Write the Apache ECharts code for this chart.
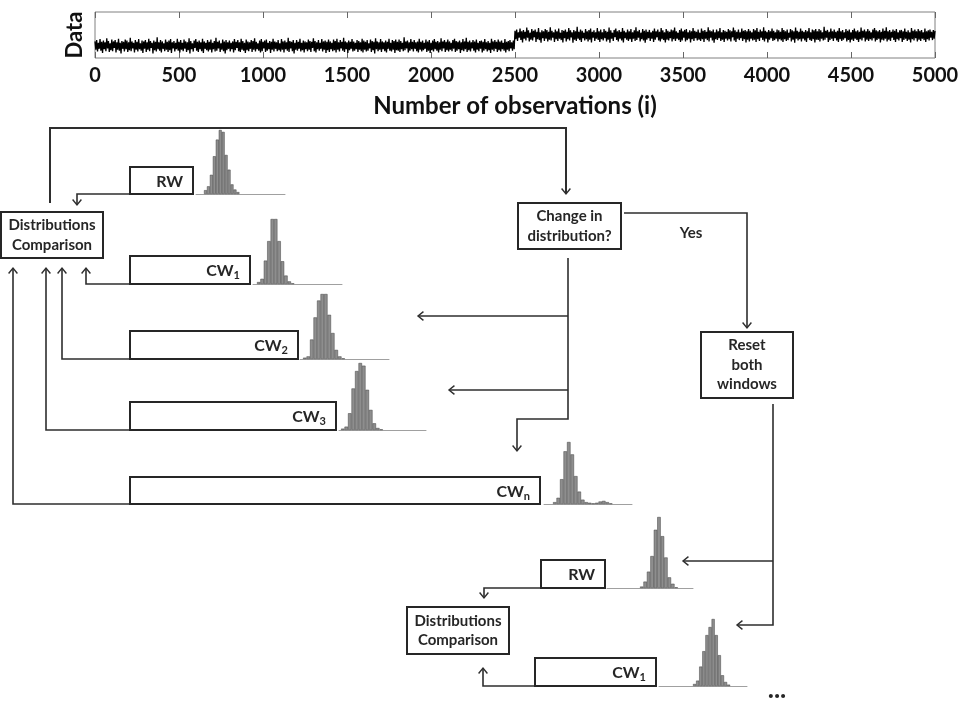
<!DOCTYPE html>
<html><head><meta charset="utf-8">
<script src="https://cdn.jsdelivr.net/npm/echarts@6/dist/echarts.min.js"></script>
<style>html,body{margin:0;padding:0;background:#fff}#c{width:969px;height:701px}</style>
</head><body><div id="c"></div>
<script>
// ---------------- DATA ----------------
const obsStep = 5; // one plotted sample every 5 observations
const dataBefore = [
3.6,1.8,3.9,1.4,3.3,2.0,4.1,1.6,3.5,1.1,3.8,1.9,3.4,1.5,4.3,2.1,3.7,1.3,3.2,1.7,
4.0,1.5,3.6,2.2,3.9,1.2,3.4,1.8,4.2,1.6,3.3,1.0,3.7,2.0,3.5,1.4,4.0,1.9,3.8,1.3,
3.4,1.7,4.4,1.5,3.6,2.1,3.3,1.2,3.9,1.8,3.5,1.4,4.1,1.9,3.2,1.6,3.8,1.1,3.6,2.0,
3.9,1.3,3.4,1.8,4.2,1.5,3.7,2.2,3.3,1.0,3.8,1.7,3.5,1.4,4.5,1.9,3.4,1.6,3.9,1.2,
3.6,2.0,3.2,1.5,4.0,1.8,3.5,1.3,3.8,1.7,4.1,1.1,3.4,2.1,3.7,1.4,3.3,1.9,4.2,1.6,
3.5,1.2,3.9,1.8,3.3,1.5,4.0,2.0,3.6,1.3,3.4,1.7,4.3,1.0,3.7,1.9,3.2,1.4,3.8,2.2,
4.1,1.6,3.5,1.3,3.8,1.9,3.4,1.5,4.2,1.1,3.6,2.0,3.3,1.7,3.9,1.4,3.5,1.8,4.0,1.2,
3.3,1.9,3.7,1.4,4.4,1.6,3.5,2.1,3.8,1.3,3.2,1.8,4.0,1.5,3.6,1.0,3.9,1.7,3.4,2.0,
3.8,1.4,3.3,1.9,3.6,1.2,4.1,1.7,3.5,2.2,3.9,1.5,3.4,1.3,4.2,1.8,3.7,1.6,3.3,1.1,
4.0,1.7,3.6,1.5,3.4,2.0,3.9,1.3,3.7,1.8,4.3,1.4,3.5,1.9,3.2,1.6,3.8,1.2,4.1,1.5,
3.5,2.1,3.8,1.3,4.0,1.6,3.3,1.9,3.7,1.1,3.5,1.8,4.2,1.4,3.6,2.0,3.4,1.5,3.9,1.7,
3.2,1.4,4.1,1.8,3.6,1.2,3.8,1.9,3.4,1.6,4.4,1.3,3.7,2.1,3.5,1.5,3.9,1.0,3.3,1.8,
3.9,1.6,3.5,2.0,4.2,1.4,3.3,1.7,3.8,1.2,3.6,1.9,3.4,1.5,4.0,1.8,3.7,1.3,3.5,2.2,
4.3,1.5,3.7,1.2,3.4,1.9,3.9,1.6,3.3,2.0,4.1,1.4,3.6,1.8,3.8,1.1,3.5,1.7,4.0,1.3,
3.6,1.9,3.3,1.5,4.0,1.7,3.7,1.2,4.2,1.8,3.4,1.4,3.9,2.1,3.5,1.6,4.4,1.3,3.6,1.9,
3.4,1.1,3.8,1.7,3.5,2.0,4.1,1.4,3.6,1.6,3.3,1.9,3.9,1.3,3.7,1.8,3.4,1.5,4.2,1.2,
3.8,1.8,3.5,1.4,3.9,1.6,3.2,2.1,4.0,1.3,3.7,1.7,3.5,1.0,4.3,1.9,3.6,1.5,3.4,1.8,
4.1,1.3,3.6,1.9,3.4,1.5,3.8,1.2,3.5,2.0,4.2,1.6,3.3,1.4,3.9,1.8,3.7,1.1,4.0,1.7,
3.5,1.6,4.0,1.3,3.7,1.9,3.3,1.5,4.5,1.7,3.6,2.1,3.8,1.2,3.4,1.6,4.1,1.9,3.5,1.4,
3.9,2.0,3.4,1.5,3.6,1.2,4.2,1.8,3.5,1.4,3.8,1.7,3.3,2.0,4.0,1.3,3.6,1.6,3.9,1.1,
3.3,1.7,3.8,1.4,4.1,1.9,3.5,1.6,3.7,1.2,3.4,1.8,4.3,1.5,3.6,2.1,3.9,1.3,3.5,1.7,
4.0,1.4,3.6,1.8,3.3,1.5,3.9,2.0,4.2,1.3,3.7,1.6,3.5,1.9,3.8,1.1,3.4,1.7,4.1,1.5,
3.6,1.9,4.4,1.3,3.5,1.7,3.8,1.4,3.4,2.1,3.9,1.6,3.6,1.2,4.0,1.8,3.3,1.5,3.7,2.0,
3.8,1.2,3.5,1.6,4.1,1.9,3.4,1.4,3.7,1.7,3.3,1.1,4.2,1.8,3.6,1.5,3.9,2.0,3.5,1.3,
4.0,1.7,3.6,1.4,3.8,1.9,3.3,1.6,4.1,1.2,3.5,1.8,3.7,1.5,3.9,2.1,3.4,1.6,3.8,1.9];
const dataAfter = [
5.9,4.1,6.2,3.7,5.6,4.4,6.4,3.9,5.8,3.4,6.1,4.2,5.7,3.8,6.6,4.4,6.0,3.6,5.5,4.0,
6.3,3.8,5.9,4.5,6.2,3.5,5.7,4.1,6.5,3.9,5.6,3.3,6.0,4.3,5.8,3.7,6.3,4.2,6.1,3.6,
5.7,4.0,6.7,3.8,5.9,4.4,5.6,3.5,6.2,4.1,5.8,3.7,6.4,4.2,5.5,3.9,6.1,3.4,5.9,4.3,
6.2,3.6,5.7,4.1,6.5,3.8,6.0,4.5,5.6,3.3,6.1,4.0,5.8,3.7,6.8,4.2,5.7,3.9,6.2,3.5,
5.9,4.3,5.5,3.8,6.3,4.1,5.8,3.6,6.1,4.0,6.4,3.4,5.7,4.4,6.0,3.7,5.6,4.2,6.5,3.9,
5.8,3.5,6.2,4.1,5.6,3.8,6.3,4.3,5.9,3.6,5.7,4.0,6.6,3.3,6.0,4.2,5.5,3.7,6.1,4.5,
6.4,3.9,5.8,3.6,6.1,4.2,5.7,3.8,6.5,3.4,5.9,4.3,5.6,4.0,6.2,3.7,5.8,4.1,6.3,3.5,
5.6,4.2,6.0,3.7,6.7,3.9,5.8,4.4,6.1,3.6,5.5,4.1,6.3,3.8,5.9,3.3,6.2,4.0,5.7,4.3,
6.1,3.7,5.6,4.2,5.9,3.5,6.4,4.0,5.8,4.5,6.2,3.8,5.7,3.6,6.5,4.1,6.0,3.9,5.6,3.4,
6.3,4.0,5.9,3.8,5.7,4.3,6.2,3.6,6.0,4.1,6.6,3.7,5.8,4.2,5.5,3.9,6.1,3.5,6.4,3.8,
5.8,4.4,6.1,3.6,6.3,3.9,5.6,4.2,6.0,3.4,5.8,4.1,6.5,3.7,5.9,4.3,5.7,3.8,6.2,4.0,
5.5,3.7,6.4,4.1,5.9,3.5,6.1,4.2,5.7,3.9,6.7,3.6,6.0,4.4,5.8,3.8,6.2,3.3,5.6,4.1,
6.2,3.9,5.8,4.3,6.5,3.7,5.6,4.0,6.1,3.5,5.9,4.2,5.7,3.8,6.3,4.1,6.0,3.6,5.8,4.5,
6.6,3.8,6.0,3.5,5.7,4.2,6.2,3.9,5.6,4.3,6.4,3.7,5.9,4.1,6.1,3.4,5.8,4.0,6.3,3.6,
5.9,4.2,5.6,3.8,6.3,4.0,6.0,3.5,6.5,4.1,5.7,3.7,6.2,4.4,5.8,3.9,6.7,3.6,5.9,4.2,
5.7,3.4,6.1,4.0,5.8,4.3,6.4,3.7,5.9,3.9,5.6,4.2,6.2,3.6,6.0,4.1,5.7,3.8,6.5,3.5,
6.1,4.1,5.8,3.7,6.2,3.9,5.5,4.4,6.3,3.6,6.0,4.0,5.8,3.3,6.6,4.2,5.9,3.8,5.7,4.1,
6.4,3.6,5.9,4.2,5.7,3.8,6.1,3.5,5.8,4.3,6.5,3.9,5.6,3.7,6.2,4.1,6.0,3.4,6.3,4.0,
5.8,3.9,6.3,3.6,6.0,4.2,5.6,3.8,6.8,4.0,5.9,4.4,6.1,3.5,5.7,3.9,6.4,4.2,5.8,3.7,
6.2,4.3,5.7,3.8,5.9,3.5,6.5,4.1,5.8,3.7,6.1,4.0,5.6,4.3,6.3,3.6,5.9,3.9,6.2,3.4,
5.6,4.0,6.1,3.7,6.4,4.2,5.8,3.9,6.0,3.5,5.7,4.1,6.6,3.8,5.9,4.4,6.2,3.6,5.8,4.0,
6.3,3.7,5.9,4.1,5.6,3.8,6.2,4.3,6.5,3.6,6.0,3.9,5.8,4.2,6.1,3.4,5.7,4.0,6.4,3.8,
5.9,4.2,6.7,3.6,5.8,4.0,6.1,3.7,5.7,4.4,6.2,3.9,5.9,3.5,6.3,4.1,5.6,3.8,6.0,4.3,
6.1,3.5,5.8,3.9,6.4,4.2,5.7,3.7,6.0,4.0,5.6,3.4,6.5,4.1,5.9,3.8,6.2,4.3,5.8,3.6,
6.3,4.0,5.9,3.7,6.1,4.2,5.6,3.9,6.4,3.5,5.8,4.1,6.0,3.8,6.2,4.4,5.7,3.9,6.1,4.2,5.9];
const xAxisMax = 5000;
const xTickStep = 500;

// histogram bin heights (relative counts)
const histRW1 = [6,12,30,59,85,100,97,61,38,15,7,3];
const histCW1 = [3,8,36,66,100,100,66,35,13,4,1];
const histCW2 = [2,4,30,64,90,100,100,68,40,14,4,1];
const histCW3 = [2,5,25,62,88,100,96,60,30,10,3,1];
const histCWn = [3,10,40,85,100,80,45,20,7,3,2,1,2,4,5,3,1];
const histRW2 = [2,9,23,45,82,100,73,43,15,6,1];
const histCW1b = [3,8,29,52,76,88,100,76,46,16,6,2];

// ---------------- LAYOUT (diagram, pixel space) ----------------
const histLayout = [
  {data:histRW1, barStart:204, binW:2.95, baseStart:196, baseEnd:285, top:130, bottom:194},
  {data:histCW1, barStart:257, binW:3.4,  baseStart:253, baseEnd:342, top:219, bottom:284},
  {data:histCW2, barStart:303, binW:3.5,  baseStart:300, baseEnd:389, top:294, bottom:359},
  {data:histCW3, barStart:341, binW:3.5,  baseStart:339, baseEnd:426, top:363, bottom:430},
  {data:histCWn, barStart:553, binW:3.5,  baseStart:544, baseEnd:632, top:442, bottom:504},
  {data:histRW2, barStart:640, binW:3.45, baseStart:607, baseEnd:693, top:517, bottom:588},
  {data:histCW1b,barStart:693, binW:3.1,  baseStart:659, baseEnd:747, top:619, bottom:686}
];
const boxes = [
  {x0:130,y0:167,x1:193,y1:194, label:'RW'},
  {x0:1,y0:212,x1:103,y1:258, lines:['Distributions','Comparison']},
  {x0:130,y0:256,x1:250,y1:284, label:'CW', sub:'1'},
  {x0:130,y0:331,x1:298,y1:359, label:'CW', sub:'2'},
  {x0:130,y0:402,x1:336,y1:430, label:'CW', sub:'3'},
  {x0:130,y0:477,x1:540,y1:504, label:'CW', sub:'n'},
  {x0:518,y0:203,x1:621,y1:249, lines:['Change in','distribution?']},
  {x0:701,y0:332,x1:793,y1:398, lines:['Reset','both','windows']},
  {x0:541,y0:560,x1:605,y1:588, label:'RW'},
  {x0:407,y0:607,x1:509,y1:654, lines:['Distributions','Comparison']},
  {x0:535,y0:658,x1:656,y1:686, label:'CW', sub:'1'}
];
const flows = [
  {pts:[[50,203],[50,128],[566,128],[566,194]], w:2},
  {pts:[[130,194],[77,194],[77,205]]},
  {pts:[[130,284],[86,284],[86,268]]},
  {pts:[[130,359],[62,359],[62,268]]},
  {pts:[[130,430],[46,430],[46,268]]},
  {pts:[[130,504],[13,504],[13,268]]},
  {pts:[[624,213],[747,213],[747,328]]},
  {pts:[[568,258],[568,419],[517,419],[517,451]]},
  {pts:[[568,316],[418,316]]},
  {pts:[[568,390],[449,390]]},
  {pts:[[773,404],[773,625],[737,625]]},
  {pts:[[773,561],[683,561]]},
  {pts:[[541,588],[484,588],[484,598]]},
  {pts:[[535,686],[483,686],[483,668]]}
];
const notes = [
  {x:691, y:233, text:'Yes', size:15},
  {x:777, y:690, text:'...', size:26}
];

// ---------------- CHART ----------------
const FONT = 'Lato, "Open Sans", sans-serif';
const chart = echarts.init(document.getElementById('c'), null, {renderer:'canvas'});
const obs = dataBefore.concat(dataAfter).map((v,i)=>[i*obsStep, v]);

const grids = [
  {left:95, top:12, width:840, height:46, show:true, borderColor:'#808080', borderWidth:1, backgroundColor:'transparent'},
  {left:0, top:0, width:969, height:701}
];
const xAxes = [
  {gridIndex:0, type:'value', min:0, max:xAxisMax, interval:xTickStep,
   axisLine:{show:false}, splitLine:{show:false},
   axisTick:{inside:true, length:6, lineStyle:{color:'#666'}},
   axisLabel:{fontFamily:FONT, fontWeight:'bold', fontSize:20, color:'#111', margin:8, formatter:(v)=>String(v)},
   name:'Number of observations (i)', nameLocation:'middle', nameGap:36,
   nameTextStyle:{fontFamily:FONT, fontWeight:'bold', fontSize:24, color:'#111'}},
  {gridIndex:0, type:'value', position:'top', min:0, max:xAxisMax, interval:xTickStep,
   axisLine:{show:false}, splitLine:{show:false}, axisLabel:{show:false},
   axisTick:{inside:true, length:6, lineStyle:{color:'#666'}}},
  {gridIndex:1, type:'value', min:0, max:969, show:false}
];
const yAxes = [
  {gridIndex:0, type:'value', min:0, max:10, axisLabel:{show:false}, axisTick:{show:false},
   axisLine:{show:false}, splitLine:{show:false},
   name:'Data', nameLocation:'middle', nameGap:9, nameRotate:90,
   nameTextStyle:{fontFamily:FONT, fontWeight:'bold', fontSize:22, color:'#111'}},
  {gridIndex:1, type:'value', min:0, max:701, inverse:true, show:false}
];
const OVX = 2, OVY = 1; // overlay axis indices
const series = [
  {type:'line', xAxisIndex:0, yAxisIndex:0, data:obs, showSymbol:false, symbol:'none',
   lineStyle:{color:'#000', width:1.3}, silent:true}
];

histLayout.forEach((h)=>{
  const gi = grids.length;
  grids.push({left:h.baseStart, top:h.top, width:h.baseEnd-h.baseStart, height:h.bottom-h.top});
  const xmin = -0.5 - (h.barStart - h.baseStart)/h.binW;
  const xmax = xmin + (h.baseEnd - h.baseStart)/h.binW;
  const xi = xAxes.length, yi = yAxes.length;
  xAxes.push({gridIndex:gi, type:'value', min:xmin, max:xmax,
    axisLabel:{show:false}, axisTick:{show:false}, splitLine:{show:false},
    axisLine:{show:true, onZero:false, lineStyle:{color:'#a0a0a0', width:1}}});
  yAxes.push({gridIndex:gi, type:'value', min:0, max:100, show:false});
  series.push({type:'bar', xAxisIndex:xi, yAxisIndex:yi, barWidth:h.binW,
    data:h.data.map((v,i)=>[i,v]),
    itemStyle:{color:'#8e8e8e', borderColor:'#404040', borderWidth:0.5}, silent:true});
});

function arrowHead(tip, prev, size){
  const dx=tip[0]-prev[0], dy=tip[1]-prev[1]; const L=Math.hypot(dx,dy)||1;
  const ux=dx/L, uy=dy/L; const a=0.68; const c=Math.cos(a), s=Math.sin(a);
  return [[tip[0]-size*(ux*c-uy*s), tip[1]-size*(uy*c+ux*s)], tip,
          [tip[0]-size*(ux*c+uy*s), tip[1]-size*(uy*c-ux*s)]];
}

series.push({type:'custom', xAxisIndex:OVX, yAxisIndex:OVY, silent:true,
  data:flows.map(f=>f.pts[0]),
  renderItem:(params, api)=>{
    const f = flows[params.dataIndex];
    const pts = f.pts.map(p=>api.coord(p));
    const n = pts.length;
    const head = arrowHead(pts[n-1], pts[n-2], 7);
    return {type:'group', children:[
      {type:'polyline', shape:{points:pts}, style:{stroke:'#2e2e2e', lineWidth:f.w||1.6, fill:null}},
      {type:'polyline', shape:{points:head}, style:{stroke:'#2e2e2e', lineWidth:1.4, fill:null}}
    ]};
  }});

series.push({type:'custom', xAxisIndex:OVX, yAxisIndex:OVY, silent:true,
  data:boxes.map(b=>[b.x0,b.y0]),
  renderItem:(params, api)=>{
    const b = boxes[params.dataIndex];
    const p0 = api.coord([b.x0,b.y0]), p1 = api.coord([b.x1,b.y1]);
    const children = [{type:'rect', shape:{x:p0[0], y:p0[1], width:p1[0]-p0[0], height:p1[1]-p0[1]},
      style:{fill:'#fff', stroke:'#262626', lineWidth:2}}];
    const cy = (p0[1]+p1[1])/2;
    if (b.lines){
      const lh = 19.5;
      b.lines.forEach((t,k)=>{
        children.push({type:'text', style:{text:t, x:(p0[0]+p1[0])/2, y:cy+(k-(b.lines.length-1)/2)*lh,
          align:'center', verticalAlign:'middle', fill:'#262626',
          font:'bold 15px '+FONT}});
      });
    } else {
      const txt = b.sub ? '{m|'+b.label+'}{s|'+b.sub+'}' : '{m|'+b.label+'}';
      children.push({type:'text', style:{text:txt, x:p1[0]-10, y:cy+1, align:'right', verticalAlign:'middle',
        rich:{m:{fontSize:16, fontWeight:'bold', fontFamily:FONT, fill:'#262626', lineHeight:20},
              s:{fontSize:11, fontWeight:'bold', fontFamily:FONT, fill:'#262626', lineHeight:11, verticalAlign:'bottom'}}}});
    }
    return {type:'group', children};
  }});

series.push({type:'custom', xAxisIndex:OVX, yAxisIndex:OVY, silent:true,
  data:notes.map(n=>[n.x,n.y]),
  renderItem:(params, api)=>{
    const n = notes[params.dataIndex];
    const p = api.coord([n.x,n.y]);
    return {type:'text', style:{text:n.text, x:p[0], y:p[1], align:'center', verticalAlign:'middle',
      fill:'#262626', font:'bold '+n.size+'px '+FONT}};
  }});

chart.setOption({animation:false, backgroundColor:'#fff', grid:grids, xAxis:xAxes, yAxis:yAxes, series});
</script></body></html>
